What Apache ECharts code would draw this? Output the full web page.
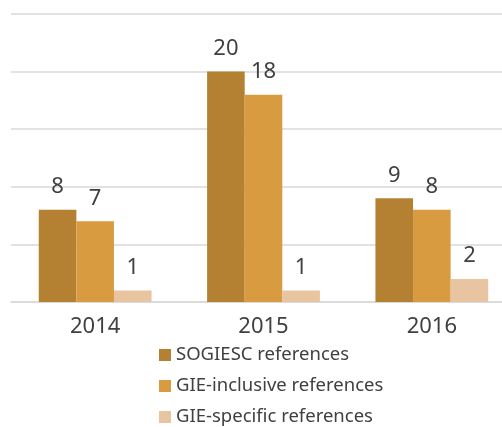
<!DOCTYPE html>
<html><head><meta charset="utf-8">
<script src="https://cdn.jsdelivr.net/npm/echarts@6/dist/echarts.min.js"></script>
<style>html,body{margin:0;padding:0;background:#fff}#c{width:502px;height:427px}</style>
</head><body><div id="c"></div>
<script>
const categories = ['2014', '2015', '2016'];
const sogiesc = [8, 20, 9];
const gieInclusive = [7, 18, 8];
const gieSpecific = [1, 1, 2];
const seriesNames = ['SOGIESC references', 'GIE-inclusive references', 'GIE-specific references'];
const colors = ['#B38131', '#D89B40', '#E8C4A0'];
const FONT = 'Noto Sans';
const chart = echarts.init(document.getElementById('c'));
const label = {show: true, position: 'top', distance: 12, color: '#404040', fontSize: 22, fontFamily: FONT};
chart.setOption({
  animation: false,
  color: colors,
  grid: {left: 11, width: 505, top: 14, bottom: 125, containLabel: false, outerBoundsMode: 'none'},
  legend: {
    orient: 'vertical', left: 159, top: 345, height: 120, padding: 0,
    itemWidth: 12, itemHeight: 12, itemGap: 11,
    icon: 'rect',
    textStyle: {color: '#404040', fontSize: 18.5, fontFamily: FONT, lineHeight: 20},
    data: seriesNames
  },
  xAxis: {
    type: 'category', data: categories,
    axisLine: {lineStyle: {color: '#D9D9D9', width: 1.5}},
    axisTick: {show: false},
    axisLabel: {color: '#404040', fontSize: 22, fontFamily: FONT, margin: 14}
  },
  yAxis: {
    type: 'value', min: 0, max: 25, interval: 5,
    axisLabel: {show: false}, axisLine: {show: false}, axisTick: {show: false},
    splitLine: {lineStyle: {color: '#D9D9D9', width: 1.5}}
  },
  series: [
    {name: seriesNames[0], type: 'bar', data: sogiesc, barGap: '0%', barCategoryGap: '33%', label},
    {name: seriesNames[1], type: 'bar', data: gieInclusive, label},
    {name: seriesNames[2], type: 'bar', data: gieSpecific, label}
  ]
});
</script></body></html>
